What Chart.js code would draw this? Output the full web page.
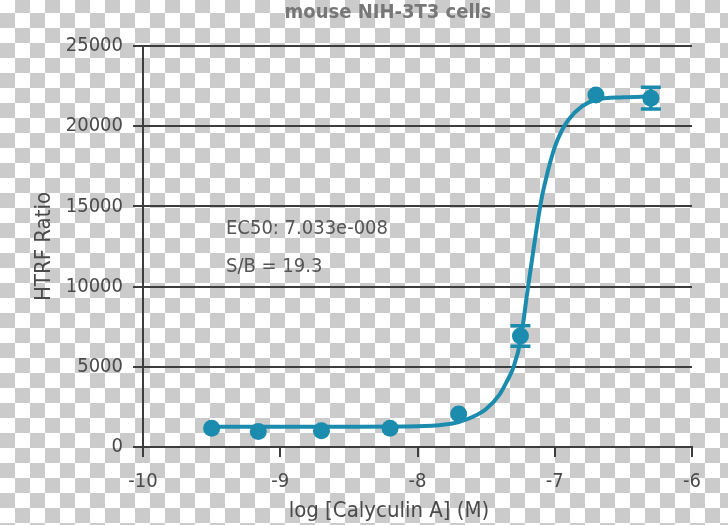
<!DOCTYPE html>
<html>
<head>
<meta charset="utf-8">
<script src="https://cdn.jsdelivr.net/npm/chart.js@4"></script>
<style>
html, body { margin: 0; padding: 0; }
body {
  width: 728px; height: 525px; overflow: hidden;
  /* transparency checkerboard behind the chart */
  background: repeating-conic-gradient(#cbcbcb 0 25%, #ffffff 0 50%) 0 -2px / 30px 30px;
}
canvas { display: block; }
</style>
</head>
<body>
<canvas id="myChart" width="728" height="525"></canvas>
<script>
const ctx = document.querySelector('#myChart').getContext('2d');

const FONT = "'DejaVu Sans Condensed', 'Liberation Sans Narrow', Roboto, sans-serif";
const TEAL = '#1b8cae';
const INK = '#3d3d3d';
const TXT = '#4a4a4a';

// measured points, x = log [Calyculin A] (M)
const doseLog = [-9.5, -9.16, -8.7, -8.2, -7.7, -7.25, -6.7, -6.3];
const htrfMean = [1170, 970, 1010, 1170, 2060, 6920, 21950, 21750];
const htrfErr = [0, 0, 0, 0, 0, 640, 0, 680];

// fitted curve
const fitLog = [-9.5, -9.0, -8.5, -8.0, -7.8, -7.7, -7.6, -7.5, -7.4, -7.35, -7.3, -7.25, -7.2, -7.15, -7.1, -7.05, -7.0, -6.95, -6.9, -6.8, -6.7, -6.5, -6.3];
const fitHtrf = [1260, 1260, 1265, 1290, 1400, 1560, 1870, 2370, 3300, 4070, 5000, 6600, 9650, 12600, 15300, 17200, 18700, 19700, 20400, 21250, 21650, 21800, 21850];

const chartTitle = 'mouse NIH-3T3 cells';
const xTitle = 'log [Calyculin A] (M)';
const yTitle = 'HTRF Ratio';
const notes = ['EC50: 7.033e-008', 'S/B = 19.3'];

//error bars drawn through the scales
const errorBars = {
  id: 'errorBars',
  afterDatasetsDraw(chart) {
    const {ctx, scales: {x, y}} = chart;
    ctx.save();
    ctx.strokeStyle = TEAL;
    ctx.lineWidth = 3.5;
    doseLog.forEach((d, i) => {
      const e = htrfErr[i];
      if (!e) return;
      const px = x.getPixelForValue(d);
      const top = y.getPixelForValue(htrfMean[i] + e);
      const bot = y.getPixelForValue(htrfMean[i] - e);
      ctx.beginPath();
      ctx.moveTo(px, top); ctx.lineTo(px, bot);
      ctx.moveTo(px - 10, top); ctx.lineTo(px + 10, top);
      ctx.moveTo(px - 10, bot); ctx.lineTo(px + 10, bot);
      ctx.stroke();
    });
    ctx.restore();
  }
};

//title, annotations and x title
const extraText = {
  id: 'extraText',
  afterDraw(chart) {
    const c = chart.ctx;
    c.save();
    c.textBaseline = 'middle';
    c.textAlign = 'center';
    c.fillStyle = '#777777';
    c.font = 'bold 20px ' + FONT;
    c.fillText(chartTitle, 388, 13);
    c.fillStyle = TXT;
    c.font = '22px ' + FONT;
    c.fillText(xTitle, 389, 511);
    c.textAlign = 'left';
    c.fillStyle = '#555555';
    c.font = '20px ' + FONT;
    c.fillText(notes[0], 226, 229);
    c.fillText(notes[1], 226, 267);
    c.restore();
  }
};

const data = {
  datasets: [
    {
      data: doseLog.map((v, i) => ({x: v, y: htrfMean[i]})),
      showLine: false,
      pointRadius: 8.5,
      pointBackgroundColor: TEAL,
      pointBorderWidth: 0,
      order: 0
    },
    {
      data: fitLog.map((v, i) => ({x: v, y: fitHtrf[i]})),
      showLine: true,
      borderColor: TEAL,
      borderWidth: 4,
      pointRadius: 0,
      cubicInterpolationMode: 'monotone',
      fill: false,
      order: 1
    }
  ]
};

const config = {
  type: 'scatter',
  data: data,
  options: {
    responsive: false,
    animation: false,
    devicePixelRatio: 1,
    layout: { padding: { top: 46, right: 36, left: 0, bottom: 0 } },
    plugins: {
      legend: { display: false },
      tooltip: { enabled: false },
      title: { display: false }
    },
    scales: {
      x: {
        type: 'linear',
        min: -10,
        max: -6,
        ticks: {
          stepSize: 1,
          color: TXT,
          font: { family: FONT, size: 20 },
          padding: 13,
          callback: (v) => String(v)
        },
        grid: { drawOnChartArea: false, color: INK, lineWidth: 2, tickLength: 10 },
        border: { color: INK, width: 2 },
        afterFit(s) { s.height = 78; }
      },
      y: {
        min: 0,
        max: 25000,
        ticks: {
          stepSize: 5000,
          color: TXT,
          font: { family: FONT, size: 20 },
          padding: 10,
          callback: (v) => String(v)
        },
        grid: { color: INK, lineWidth: 2, tickLength: 10 },
        border: { color: INK, width: 2 },
        title: {
          display: true,
          text: yTitle,
          color: TXT,
          font: { family: FONT, size: 22 },
          padding: { top: 31, bottom: 0 }
        },
        afterFit(s) { s.width = 143; }
      }
    }
  },
  plugins: [errorBars, extraText]
};

const myChart = new Chart(ctx, config);
</script>
</body>
</html>
